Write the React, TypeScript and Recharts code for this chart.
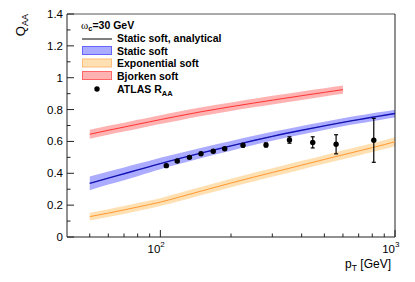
import { ComposedChart, Area, Line, Scatter, XAxis, YAxis, ErrorBar, ReferenceLine } from "recharts";

// pT grid for the theory bands [GeV]
const ptGrid = [50, 60, 70, 80, 90, 100, 120, 150, 200, 250, 300, 400, 500, 600, 700, 800, 900, 1000];
const staticSoft = [0.337, 0.37, 0.397, 0.421, 0.442, 0.461, 0.492, 0.528, 0.572, 0.606, 0.632, 0.67, 0.698, 0.72, 0.737, 0.752, 0.764, 0.775];
const staticSoftErr = [0.043, 0.041, 0.04, 0.039, 0.037, 0.036, 0.034, 0.032, 0.03, 0.029, 0.028, 0.027, 0.026, 0.025, 0.025, 0.025, 0.024, 0.024];
const staticAnalytical = [0.337, 0.37, 0.397, 0.421, 0.442, 0.461, 0.492, 0.528, 0.572, 0.606, 0.632, 0.67, 0.698, 0.72, 0.737, 0.752, 0.764, 0.775];
const expSoft = [0.128, 0.15, 0.17, 0.188, 0.204, 0.219, 0.25, 0.289, 0.339, 0.376, 0.405, 0.451, 0.487, 0.516, 0.54, 0.561, 0.58, 0.598];
const expSoftErr = [0.025, 0.025, 0.025, 0.025, 0.025, 0.025, 0.026, 0.026, 0.026, 0.027, 0.027, 0.027, 0.027, 0.028, 0.028, 0.028, 0.028, 0.028];

const bjorkenPt = [50, 60, 70, 80, 90, 100, 120, 150, 200, 250, 300, 400, 500, 600];
const bjorkenSoft = [0.645, 0.67, 0.69, 0.708, 0.723, 0.737, 0.76, 0.787, 0.818, 0.841, 0.859, 0.887, 0.908, 0.925];
const bjorkenSoftErr = [0.028, 0.028, 0.028, 0.028, 0.028, 0.028, 0.028, 0.028, 0.027, 0.027, 0.027, 0.027, 0.026, 0.026];

// ATLAS R_AA
const atlasPt = [106, 118, 133, 149, 168, 188, 225, 282, 355, 446, 561, 812];
const atlasRaa = [0.448, 0.477, 0.5, 0.523, 0.538, 0.554, 0.576, 0.578, 0.609, 0.594, 0.582, 0.607];
const atlasErr = [0.008, 0.008, 0.008, 0.008, 0.008, 0.008, 0.01, 0.012, 0.02, 0.035, 0.06, 0.138];

const xTicks = [50, 60, 70, 80, 90, 100, 200, 300, 400, 500, 600, 700, 800, 900, 1000];
const yTicks = [0, 0.1, 0.2, 0.3, 0.4, 0.5, 0.6, 0.7, 0.8, 0.9, 1, 1.1, 1.2, 1.3, 1.4];
const yLabels: Record<string, string> = { "0": "0", "0.2": "0.2", "0.4": "0.4", "0.6": "0.6", "0.8": "0.8", "1": "1", "1.2": "1.2", "1.4": "1.4" };

const bandRows = ptGrid.map((pt, i) => ({
  pt,
  staticBand: [staticSoft[i] - staticSoftErr[i], staticSoft[i] + staticSoftErr[i]],
  staticC: staticSoft[i],
  analytical: staticAnalytical[i],
  expBand: [expSoft[i] - expSoftErr[i], expSoft[i] + expSoftErr[i]],
  expC: expSoft[i],
}));
const bjorkenRows = bjorkenPt.map((pt, i) => ({
  pt,
  bjBand: [bjorkenSoft[i] - bjorkenSoftErr[i], bjorkenSoft[i] + bjorkenSoftErr[i]],
  bjC: bjorkenSoft[i],
}));
const atlasRows = atlasPt.map((pt, i) => ({ pt, raa: atlasRaa[i], err: atlasErr[i] }));

const FONT = "'Liberation Sans', Arial, sans-serif";
const AXIS = "#222";

const XTick = (props: any) => {
  const { x, y, payload } = props;
  const v = payload.value;
  const major = v === 100 || v === 1000;
  return (
    <g>
      <line x1={x} x2={x} y1={y} y2={y - (major ? 7 : 3.5)} stroke={AXIS} strokeWidth={1} />
      {major && (
        <g fontFamily={FONT} fill="#000">
          <text x={x} y={y + 16} fontSize={11.5} textAnchor="end">10</text>
          <text x={x} y={y + 10} fontSize={8}>{v === 100 ? "2" : "3"}</text>
        </g>
      )}
    </g>
  );
};

const YTick = (props: any) => {
  const { x, y, payload } = props;
  const label = yLabels[String(payload.value)];
  return (
    <g>
      <line x1={x} x2={x + (label ? 7 : 3.5)} y1={y} y2={y} stroke={AXIS} strokeWidth={1} />
      {label && (
        <text x={x - 4} y={y + 4} fontSize={11.5} textAnchor="end" fontFamily={FONT} fill="#000">
          {label}
        </text>
      )}
    </g>
  );
};

function LegendAndLabels() {
  const tx = 117;
  return (
    <svg width={415} height={282} style={{ position: "absolute", left: 0, top: 0, pointerEvents: "none" }} fontFamily={FONT}>
      <text x={81} y={29} fontSize={10.5} fontWeight="bold">
        <tspan fontFamily="'Liberation Serif', serif" fontWeight="normal" fontSize={11}>ω</tspan>
        <tspan fontSize={7.5} dy={2}>c</tspan>
        <tspan dy={-2}>=30 GeV</tspan>
      </text>
      <line x1={82} x2={112} y1={39} y2={39} stroke="#000" strokeWidth={1} />
      <text x={tx} y={42} fontSize={10.5} fontWeight="bold">Static soft, analytical</text>
      <rect x={82.5} y={46.5} width={29} height={8} fill="#0000ff" fillOpacity={0.33} stroke="#6666ff" strokeWidth={1} />
      <text x={tx} y={54.5} fontSize={10.5} fontWeight="bold">Static soft</text>
      <rect x={82.5} y={59} width={29} height={8} fill="#ff9900" fillOpacity={0.3} stroke="#ffbb77" strokeWidth={1} />
      <text x={tx} y={67} fontSize={10.5} fontWeight="bold">Exponential soft</text>
      <rect x={82.5} y={71.5} width={29} height={8} fill="#ff0000" fillOpacity={0.3} stroke="#ff6666" strokeWidth={1} />
      <text x={tx} y={79.5} fontSize={10.5} fontWeight="bold">Bjorken soft</text>
      <circle cx={97} cy={89} r={2.7} fill="#000" />
      <text x={tx} y={92.5} fontSize={10.5} fontWeight="bold">
        ATLAS R<tspan fontSize={7.5} dy={3}>AA</tspan>
      </text>

      <text transform="translate(25,14) rotate(-90)" textAnchor="end" fontSize={13}>
        Q<tspan fontSize={9} dy={2.5}>AA</tspan>
      </text>
      <text x={391} y={268} textAnchor="end" fontSize={12}>
        p<tspan fontSize={8.5} dy={3}>T</tspan>
        <tspan dy={-3}> [GeV]</tspan>
      </text>
    </svg>
  );
}

export default function App() {
  return (
    <div style={{ position: "absolute", left: 0, top: 0, width: 415, height: 282, background: "#fff" }}>
      <ComposedChart width={415} height={282} data={bandRows} margin={{ top: 14, right: 20, left: 17, bottom: 15 }}>
        <XAxis
          dataKey="pt"
          type="number"
          scale="log"
          domain={[40, 1000]}
          allowDataOverflow
          ticks={xTicks}
          interval={0}
          height={30}
          tickSize={0}
          tickMargin={0}
          tickLine={false}
          tick={<XTick />}
          stroke={AXIS}
        />
        <YAxis
          type="number"
          domain={[0, 1.4]}
          ticks={yTicks}
          interval={0}
          width={50}
          tickSize={0}
          tickMargin={0}
          tickLine={false}
          tick={<YTick />}
          stroke={AXIS}
        />
        <ReferenceLine y={1.4} stroke="#555" strokeWidth={1} />
        <ReferenceLine x={1000} stroke={AXIS} strokeWidth={1} />

        <Area dataKey="staticBand" type="monotone" stroke="none" fill="#0000ff" fillOpacity={0.33} isAnimationActive={false} />
        <Area dataKey="expBand" type="monotone" stroke="none" fill="#ff9900" fillOpacity={0.3} isAnimationActive={false} />
        <Area data={bjorkenRows} dataKey="bjBand" type="monotone" stroke="none" fill="#ff0000" fillOpacity={0.3} isAnimationActive={false} />

        <Line dataKey="expC" type="monotone" stroke="#ff9933" strokeWidth={1} dot={false} isAnimationActive={false} />
        <Line data={bjorkenRows} dataKey="bjC" type="monotone" stroke="#ff3333" strokeWidth={1} dot={false} isAnimationActive={false} />
        <Line dataKey="staticC" type="monotone" stroke="#2222ff" strokeWidth={1.4} dot={false} isAnimationActive={false} />
        <Line dataKey="analytical" type="monotone" stroke="#000" strokeWidth={0.6} strokeOpacity={0.7} dot={false} isAnimationActive={false} />

        <Scatter
          data={atlasRows}
          dataKey="raa"
          fill="#000"
          isAnimationActive={false}
          shape={(p: any) => <circle cx={p.cx} cy={p.cy} r={2.7} fill="#000" />}
        >
          <ErrorBar dataKey="err" direction="y" width={2} stroke="#000" strokeWidth={1.2} />
        </Scatter>
      </ComposedChart>
      <LegendAndLabels />
    </div>
  );
}
